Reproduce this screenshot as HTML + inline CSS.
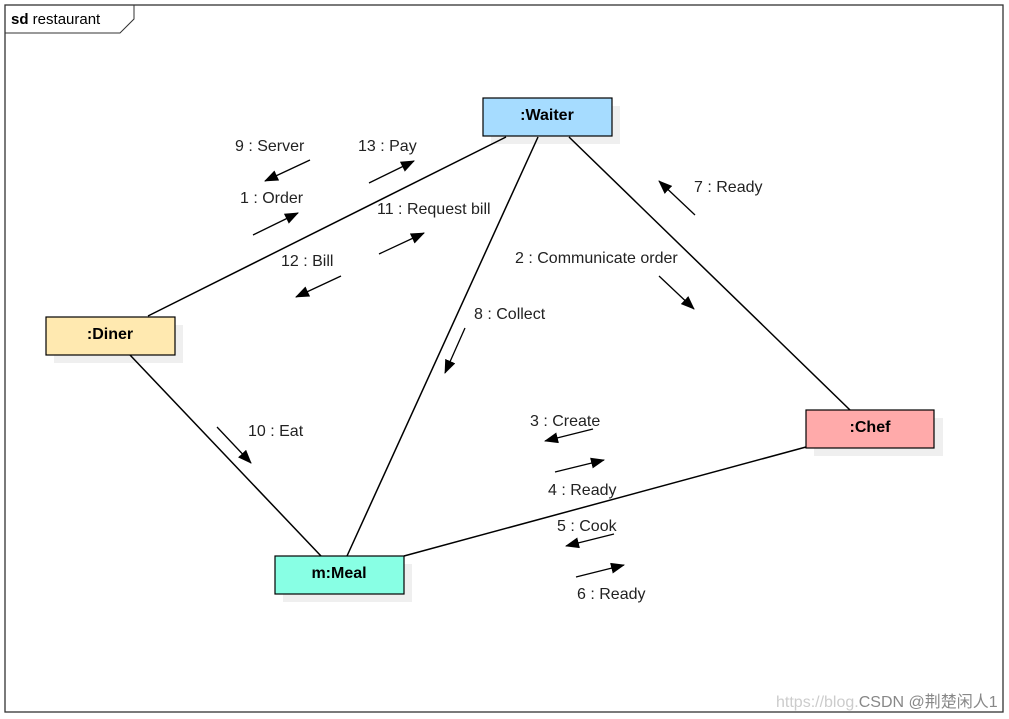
<!DOCTYPE html>
<html><head><meta charset="utf-8"><style>
body{margin:0;background:#fff;}
svg{display:block;font-family:"Liberation Sans",Arial,sans-serif;}
</style></head><body>
<svg width="1009" height="719" viewBox="0 0 1009 719" xmlns="http://www.w3.org/2000/svg">
<defs><marker id="a" markerWidth="14" markerHeight="11" refX="13" refY="5.5" orient="auto" markerUnits="userSpaceOnUse"><path d="M0,0 L14,5.5 L0,11 z" fill="#000"/></marker></defs>
<rect x="5" y="5" width="998" height="707" fill="#fff" stroke="#333" stroke-width="1.3"/>
<path d="M5,33 H120 L134,19 V5" fill="none" stroke="#333" stroke-width="1"/>
<text x="11" y="24" font-size="15"><tspan font-weight="bold">sd</tspan> restaurant</text>
<g fill="#efefef">
<rect x="491" y="106" width="129" height="38"/>
<rect x="54" y="325" width="129" height="38"/>
<rect x="814" y="418" width="129" height="38"/>
<rect x="283" y="564" width="129" height="38"/>
</g>
<g stroke="#000" stroke-width="1.5" fill="none">
<line x1="148" y1="316" x2="506" y2="137"/>
<line x1="538" y1="137" x2="347" y2="556"/>
<line x1="569" y1="137" x2="850" y2="410"/>
<line x1="130" y1="355" x2="321" y2="556"/>
<line x1="404" y1="556" x2="806" y2="447"/>
</g>
<g stroke="#000" stroke-width="1.2">
<rect x="483" y="98" width="129" height="38" fill="#a6dcff"/>
<rect x="46" y="317" width="129" height="38" fill="#ffe9b0"/>
<rect x="806" y="410" width="128" height="38" fill="#ffaaaa"/>
<rect x="275" y="556" width="129" height="38" fill="#88ffe4"/>
</g>
<g font-weight="bold" font-size="16" text-anchor="middle">
<text x="547" y="120">:Waiter</text>
<text x="110" y="339">:Diner</text>
<text x="870" y="432">:Chef</text>
<text x="339" y="578">m:Meal</text>
</g>
<g stroke="#000" stroke-width="1.3" marker-end="url(#a)">
<line x1="310" y1="160" x2="265" y2="181"/>
<line x1="369" y1="183" x2="414" y2="161"/>
<line x1="253" y1="235" x2="298" y2="213"/>
<line x1="379" y1="254" x2="424" y2="233"/>
<line x1="341" y1="276" x2="296" y2="297"/>
<line x1="465" y1="328" x2="445" y2="373"/>
<line x1="695" y1="215" x2="659" y2="181"/>
<line x1="659" y1="276" x2="694" y2="309"/>
<line x1="217" y1="427" x2="251" y2="463"/>
<line x1="593" y1="429" x2="545" y2="441"/>
<line x1="555" y1="472" x2="604" y2="460"/>
<line x1="614" y1="534" x2="566" y2="546"/>
<line x1="576" y1="577" x2="624" y2="565"/>
</g>
<g font-size="16" fill="#222">
<text x="235" y="151">9 : Server</text>
<text x="358" y="151">13 : Pay</text>
<text x="240" y="203">1 : Order</text>
<text x="377" y="214">11 : Request bill</text>
<text x="281" y="266">12 : Bill</text>
<text x="474" y="319">8 : Collect</text>
<text x="694" y="192">7 : Ready</text>
<text x="515" y="263">2 : Communicate order</text>
<text x="248" y="436">10 : Eat</text>
<text x="530" y="426">3 : Create</text>
<text x="548" y="495">4 : Ready</text>
<text x="557" y="531">5 : Cook</text>
<text x="577" y="599">6 : Ready</text>
</g>
<text x="776" y="707" font-size="16" fill="#ccc" font-family="Liberation Sans,'Noto Sans CJK SC',sans-serif">https://blog.<tspan fill="#888">CSDN @荆楚闲人1</tspan></text>
</svg>
</body></html>
